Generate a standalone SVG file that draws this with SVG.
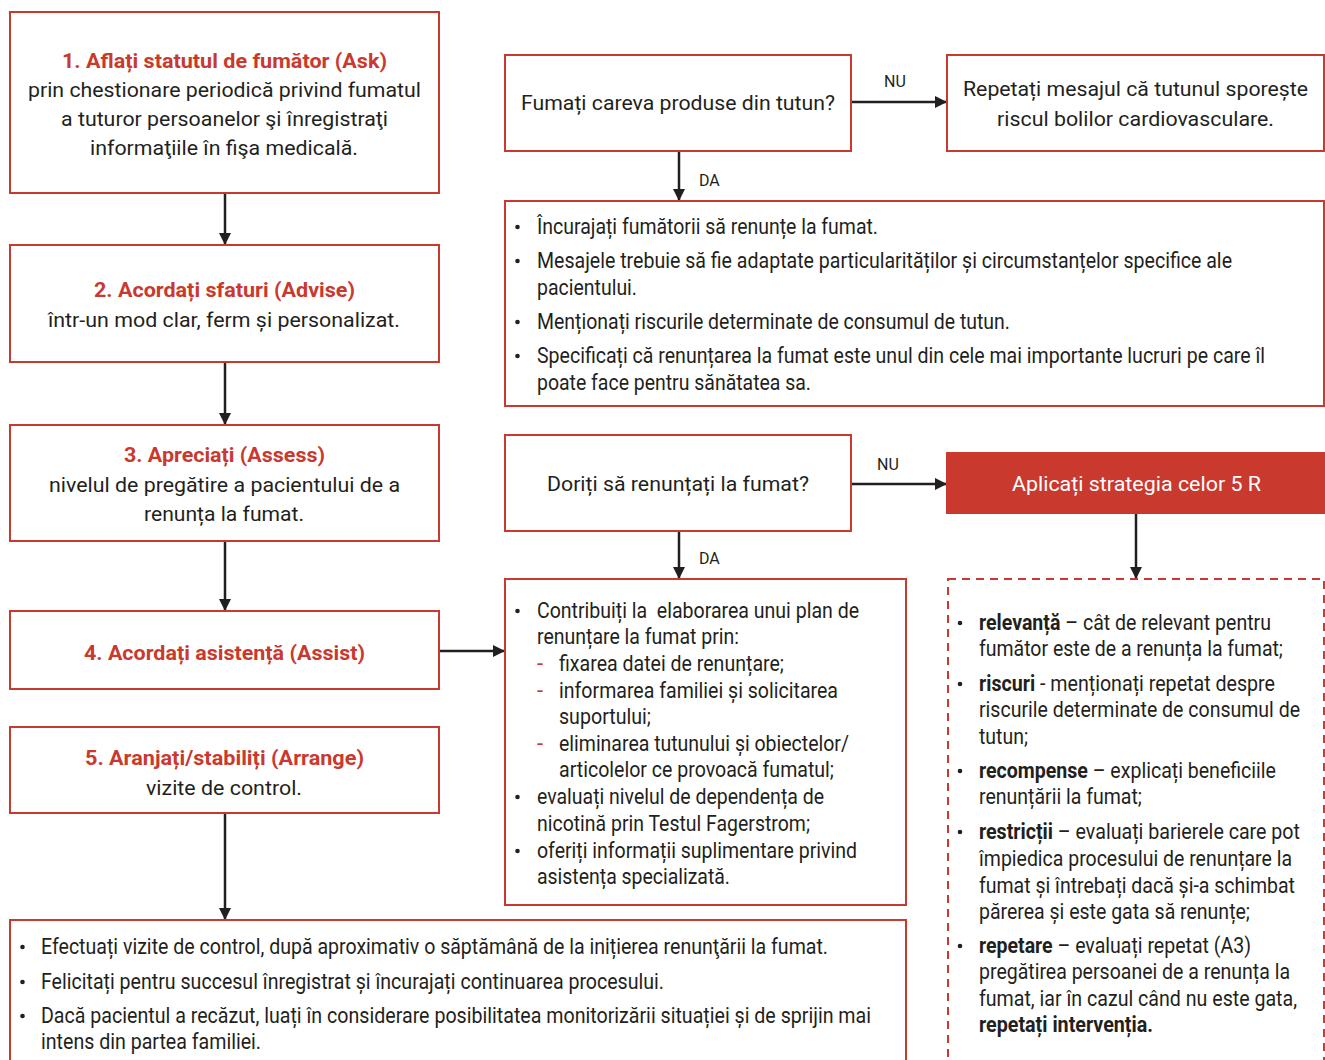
<svg xmlns="http://www.w3.org/2000/svg" width="1325" height="1060" viewBox="0 0 1325 1060">
  <style>
    .box { fill: #ffffff; stroke: #c9392e; stroke-width: 2; }
    .dash { fill: #ffffff; stroke: #c9392e; stroke-width: 2; stroke-dasharray: 8 6; }
    .fill { fill: #c9392e; stroke: #c9392e; stroke-width: 2; }
    text { font-family: "Roboto", "Liberation Sans", sans-serif; font-size: 21px; fill: #231f20; }
    .list text { font-size: 22px; }
    .t { font-weight: bold; fill: #c9392e; }
    .w { fill: #ffffff; }
    .b { font-weight: bold; }
    .lbl { font-size: 16px; }
    .rd { fill: #c9392e; }
    .conn line { stroke: #231f20; stroke-width: 2.5; fill: none; }
    .dot { fill: #231f20; }
  </style>
  <defs>
    <marker id="arr" viewBox="0 0 12 12" refX="11" refY="6" markerWidth="12" markerHeight="12" markerUnits="userSpaceOnUse" orient="auto">
      <path d="M0,0 L12,6 L0,12 Z" fill="#231f20"/>
    </marker>
  </defs>

  <!-- connectors -->
  <g class="conn">
    <line x1="225" y1="193" x2="225" y2="244" marker-end="url(#arr)"/>
    <line x1="225" y1="362" x2="225" y2="424" marker-end="url(#arr)"/>
    <line x1="225" y1="541" x2="225" y2="610" marker-end="url(#arr)"/>
    <line x1="225" y1="813" x2="225" y2="919" marker-end="url(#arr)"/>
    <line x1="440" y1="651" x2="504" y2="651" marker-end="url(#arr)"/>
    <line x1="851" y1="102" x2="946" y2="102" marker-end="url(#arr)"/>
    <line x1="679" y1="151" x2="679" y2="200" marker-end="url(#arr)"/>
    <line x1="851" y1="484" x2="946" y2="484" marker-end="url(#arr)"/>
    <line x1="679" y1="531" x2="679" y2="578" marker-end="url(#arr)"/>
    <line x1="1136" y1="513" x2="1136" y2="578" marker-end="url(#arr)"/>
    <text class="lbl" x="884" y="87">NU</text>
    <text class="lbl" x="877" y="470">NU</text>
    <text class="lbl" x="699" y="186">DA</text>
    <text class="lbl" x="699" y="564">DA</text>
  </g>

  <!-- step 1: ask -->
  <g id="ask">
    <rect class="box" x="10" y="12" width="429" height="181"/>
    <text class="t" x="62" y="68" textLength="325" lengthAdjust="spacingAndGlyphs">1. Aflați statutul de fumător (Ask)</text>
    <text x="28" y="97" textLength="393" lengthAdjust="spacingAndGlyphs">prin chestionare periodică privind fumatul</text>
    <text x="61" y="126" textLength="327" lengthAdjust="spacingAndGlyphs">a tuturor persoanelor şi înregistraţi</text>
    <text x="90" y="155" textLength="268" lengthAdjust="spacingAndGlyphs">informaţiile în fişa medicală.</text>
  </g>

  <!-- step 2: advise -->
  <g id="advise">
    <rect class="box" x="10" y="245" width="429" height="117"/>
    <text class="t" x="94" y="297" textLength="261" lengthAdjust="spacingAndGlyphs">2. Acordați sfaturi (Advise)</text>
    <text x="48" y="327" textLength="352" lengthAdjust="spacingAndGlyphs">într-un mod clar, ferm și personalizat.</text>
  </g>

  <!-- step 3: assess -->
  <g id="assess">
    <rect class="box" x="10" y="425" width="429" height="116"/>
    <text class="t" x="124" y="462" textLength="201" lengthAdjust="spacingAndGlyphs">3. Apreciați (Assess)</text>
    <text x="49" y="492" textLength="351" lengthAdjust="spacingAndGlyphs">nivelul de pregătire a pacientului de a</text>
    <text x="144" y="521" textLength="160" lengthAdjust="spacingAndGlyphs">renunța la fumat.</text>
  </g>

  <!-- step 4: assist -->
  <g id="assist">
    <rect class="box" x="10" y="611" width="429" height="78"/>
    <text class="t" x="84" y="660" textLength="281" lengthAdjust="spacingAndGlyphs">4. Acordați asistență (Assist)</text>
  </g>

  <!-- step 5: arrange -->
  <g id="arrange">
    <rect class="box" x="10" y="727" width="429" height="86"/>
    <text class="t" x="85" y="765" textLength="279" lengthAdjust="spacingAndGlyphs">5. Aranjați/stabiliți (Arrange)</text>
    <text x="146" y="795" textLength="156" lengthAdjust="spacingAndGlyphs">vizite de control.</text>
  </g>

  <!-- question: smoking -->
  <g id="q-smoke">
    <rect class="box" x="505" y="55" width="346" height="96"/>
    <text x="521" y="110" textLength="314" lengthAdjust="spacingAndGlyphs">Fumați careva produse din tutun?</text>
  </g>

  <!-- non-smoker message -->
  <g id="repeat-msg">
    <rect class="box" x="947" y="55" width="377" height="96"/>
    <text x="963" y="96" textLength="345" lengthAdjust="spacingAndGlyphs">Repetați mesajul că tutunul sporește</text>
    <text x="997" y="126" textLength="277" lengthAdjust="spacingAndGlyphs">riscul bolilor cardiovasculare.</text>
  </g>

  <!-- advice for smokers -->
  <g id="encourage" class="list">
    <rect class="box" x="505" y="201" width="819" height="205"/>
    <circle class="dot" cx="517.5" cy="227" r="2.3"/>
    <text x="537" y="234" textLength="341" lengthAdjust="spacingAndGlyphs">Încurajați fumătorii să renunțe la fumat.</text>
    <circle class="dot" cx="517.5" cy="261" r="2.3"/>
    <text x="537" y="268" textLength="695" lengthAdjust="spacingAndGlyphs">Mesajele trebuie să fie adaptate particularităților și circumstanțelor specifice ale</text>
    <text x="537" y="295" textLength="100" lengthAdjust="spacingAndGlyphs">pacientului.</text>
    <circle class="dot" cx="517.5" cy="322" r="2.3"/>
    <text x="537" y="329" textLength="473" lengthAdjust="spacingAndGlyphs">Menționați riscurile determinate de consumul de tutun.</text>
    <circle class="dot" cx="517.5" cy="356" r="2.3"/>
    <text x="537" y="363" textLength="728" lengthAdjust="spacingAndGlyphs">Specificați că renunțarea la fumat este unul din cele mai importante lucruri pe care îl</text>
    <text x="537" y="390" textLength="274" lengthAdjust="spacingAndGlyphs">poate face pentru sănătatea sa.</text>
  </g>

  <!-- question: quitting -->
  <g id="q-quit">
    <rect class="box" x="505" y="435" width="346" height="96"/>
    <text x="547" y="491" textLength="262" lengthAdjust="spacingAndGlyphs">Doriți să renunțați la fumat?</text>
  </g>

  <!-- 5 R strategy -->
  <g id="five-r">
    <rect class="fill" x="947" y="453" width="377" height="60"/>
    <text class="w" x="1012" y="491" textLength="249" lengthAdjust="spacingAndGlyphs">Aplicați strategia celor 5 R</text>
  </g>

  <!-- quit plan -->
  <g id="quit-plan" class="list">
    <rect class="box" x="505" y="579" width="401" height="326"/>
    <circle class="dot" cx="517.5" cy="611" r="2.3"/>
    <text x="537" y="618" textLength="322" lengthAdjust="spacingAndGlyphs" xml:space="preserve">Contribuiți la  elaborarea unui plan de</text>
    <text x="537" y="644" textLength="202" lengthAdjust="spacingAndGlyphs">renunțare la fumat prin:</text>
    <text class="rd" x="537" y="671">-</text>
    <text x="559" y="671" textLength="225" lengthAdjust="spacingAndGlyphs">fixarea datei de renunțare;</text>
    <text class="rd" x="537" y="698">-</text>
    <text x="559" y="698" textLength="279" lengthAdjust="spacingAndGlyphs">informarea familiei și solicitarea</text>
    <text x="559" y="724" textLength="92" lengthAdjust="spacingAndGlyphs">suportului;</text>
    <text class="rd" x="537" y="751">-</text>
    <text x="559" y="751" textLength="290" lengthAdjust="spacingAndGlyphs">eliminarea tutunului și obiectelor/</text>
    <text x="559" y="777" textLength="275" lengthAdjust="spacingAndGlyphs">articolelor ce provoacă fumatul;</text>
    <circle class="dot" cx="517.5" cy="797" r="2.3"/>
    <text x="537" y="804" textLength="287" lengthAdjust="spacingAndGlyphs">evaluați nivelul de dependența de</text>
    <text x="537" y="831" textLength="273" lengthAdjust="spacingAndGlyphs">nicotină prin Testul Fagerstrom;</text>
    <circle class="dot" cx="517.5" cy="851" r="2.3"/>
    <text x="537" y="858" textLength="320" lengthAdjust="spacingAndGlyphs">oferiți informații suplimentare privind</text>
    <text x="537" y="884" textLength="193" lengthAdjust="spacingAndGlyphs">asistența specializată.</text>
  </g>

  <!-- 5 R details -->
  <g id="five-r-list" class="list">
    <rect class="dash" x="948" y="579" width="376" height="500"/>
    <circle class="dot" cx="960" cy="623" r="2.3"/>
    <text x="979" y="630" textLength="292" lengthAdjust="spacingAndGlyphs"><tspan class="b">relevanță</tspan> – cât de relevant pentru</text>
    <text x="979" y="656" textLength="304" lengthAdjust="spacingAndGlyphs">fumător este de a renunța la fumat;</text>
    <circle class="dot" cx="960" cy="684" r="2.3"/>
    <text x="979" y="691" textLength="296" lengthAdjust="spacingAndGlyphs"><tspan class="b">riscuri</tspan> - menționați repetat despre</text>
    <text x="979" y="717" textLength="321" lengthAdjust="spacingAndGlyphs">riscurile determinate de consumul de</text>
    <text x="979" y="744" textLength="49" lengthAdjust="spacingAndGlyphs">tutun;</text>
    <circle class="dot" cx="960" cy="771" r="2.3"/>
    <text x="979" y="778" textLength="297" lengthAdjust="spacingAndGlyphs"><tspan class="b">recompense</tspan> – explicați beneficiile</text>
    <text x="979" y="804" textLength="163" lengthAdjust="spacingAndGlyphs">renunțării la fumat;</text>
    <circle class="dot" cx="960" cy="832" r="2.3"/>
    <text x="979" y="839" textLength="321" lengthAdjust="spacingAndGlyphs"><tspan class="b">restricții</tspan> – evaluați barierele care pot</text>
    <text x="979" y="866" textLength="313" lengthAdjust="spacingAndGlyphs">împiedica procesului de renunțare la</text>
    <text x="979" y="893" textLength="316" lengthAdjust="spacingAndGlyphs">fumat și întrebați dacă și-a schimbat</text>
    <text x="979" y="919" textLength="271" lengthAdjust="spacingAndGlyphs">părerea și este gata să renunțe;</text>
    <circle class="dot" cx="960" cy="946" r="2.3"/>
    <text x="979" y="953" textLength="272" lengthAdjust="spacingAndGlyphs"><tspan class="b">repetare</tspan> – evaluați repetat (A3)</text>
    <text x="979" y="979" textLength="311" lengthAdjust="spacingAndGlyphs">pregătirea persoanei de a renunța la</text>
    <text x="979" y="1006" textLength="318" lengthAdjust="spacingAndGlyphs">fumat, iar în cazul când nu este gata,</text>
    <text class="b" x="979" y="1032" textLength="174" lengthAdjust="spacingAndGlyphs">repetați intervenția.</text>
  </g>

  <!-- follow-up -->
  <g id="follow-up" class="list">
    <rect class="box" x="10" y="920" width="896" height="160"/>
    <circle class="dot" cx="22.5" cy="947" r="2.3"/>
    <text x="41" y="954" textLength="787" lengthAdjust="spacingAndGlyphs">Efectuați vizite de control, după aproximativ o săptămână de la inițierea renunţării la fumat.</text>
    <circle class="dot" cx="22.5" cy="982" r="2.3"/>
    <text x="41" y="989" textLength="623" lengthAdjust="spacingAndGlyphs">Felicitați pentru succesul înregistrat și încurajați continuarea procesului.</text>
    <circle class="dot" cx="22.5" cy="1016" r="2.3"/>
    <text x="41" y="1023" textLength="830" lengthAdjust="spacingAndGlyphs">Dacă pacientul a recăzut, luați în considerare posibilitatea monitorizării situației și de sprijin mai</text>
    <text x="41" y="1049" textLength="220" lengthAdjust="spacingAndGlyphs">intens din partea familiei.</text>
  </g>
</svg>
